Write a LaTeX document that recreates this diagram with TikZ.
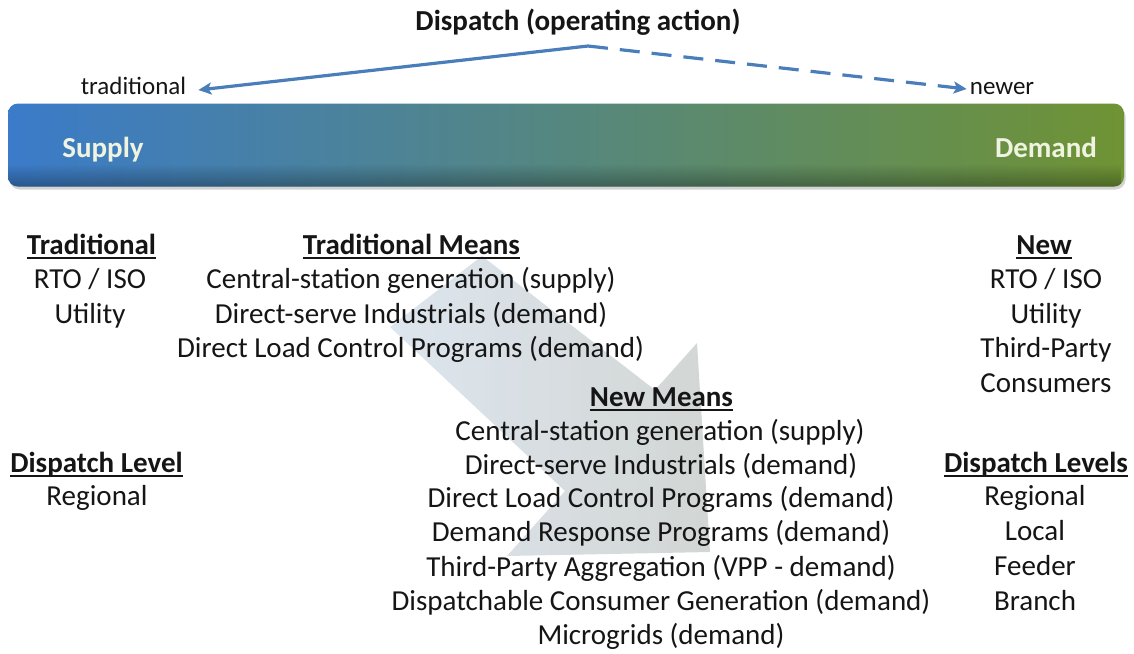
\documentclass[tikz,border=0pt]{standalone}
\usepackage{fontspec}
\setmainfont{Carlito}
\usetikzlibrary{arrows.meta,shadows,fadings,calc}
\definecolor{barL}{HTML}{3B7BC9}
\definecolor{barM}{HTML}{528A88}
\definecolor{barR}{HTML}{6F9334}
\definecolor{arrowblue}{HTML}{4A7EBB}
\definecolor{shaftc}{HTML}{DDE5EE}
\definecolor{headc}{HTML}{D2D6D4}
\definecolor{bartext}{HTML}{EEF4DF}
\definecolor{ink}{HTML}{151515}
\newcommand{\ulb}[1]{\setbox0=\hbox{\bfseries #1}\rlap{\rule[-0.16em]{\wd0}{0.07em}}\box0}
\begin{document}
\begin{tikzpicture}[x=1pt,y=-1pt,
  txt/.style={font=\fontsize{29}{35}\selectfont, inner sep=0pt, anchor=base, text=ink},
  small/.style={font=\fontsize{25}{30}\selectfont, inner sep=0pt, anchor=base, text=ink},
  bartxt/.style={font=\fontsize{29}{35}\selectfont\bfseries, inner sep=0pt, anchor=base, text=bartext},
  bar/.style={rounded corners=10pt, minimum width=1116pt, minimum height=83pt, inner sep=0pt,
    left color=barL, middle color=barM, right color=barR,
    drop shadow={shadow xshift=1.5pt, shadow yshift=-3pt, opacity=0.35}},
  conn/.style={draw=arrowblue, line width=3.2pt, -{Stealth[length=13pt,width=12pt,inset=3pt]}},
  dconn/.style={conn, dash pattern=on 20pt off 12pt}
]
\useasboundingbox (0,0) rectangle (1134,653);

% big faint arrow
\shade[left color=shaftc, right color=headc]
  (482,256) -- (655,390) -- (697,343) -- (710,552) -- (507,556) -- (565,491) -- (390,327) -- cycle;

% bar
\node[bar] (bar) at (566,145) {};
\begin{scope}
  \clip[rounded corners=10pt] (bar.north west) rectangle (bar.south east);
  \fill[black, path fading=north, fill opacity=0.3] (8,164) rectangle (1124,187);
\end{scope}
\node[bartxt] (supply) at (103,157) {Supply};
\node[bartxt] (demand) at (1046,157) {Demand};

% top
\node[txt, font=\fontsize{29}{35}\selectfont\bfseries] (title) at (578,30) {Dispatch (operating action)};
\node[small] (trad) at (133.5,94) {traditional};
\node[small] (newer) at (1002,94) {newer};
\coordinate (apex) at (588,46);
\draw[conn] (apex) -- ($(trad.base east)+(12,-4)$);
\draw[dconn] (apex) -- ($(newer.base west)+(-3,-5)$);

% left column
\node[txt] (lh) at (91.5,254) {\ulb{Traditional}};
\node[txt] (l1) at (90,288) {RTO / ISO};
\node[txt] (l2) at (90,323) {Utility};
\node[txt] (dl) at (96.5,472) {\ulb{Dispatch Level}};
\node[txt] (dl1) at (97,505) {Regional};

% traditional means
\node[txt] (th) at (411.5,254) {\ulb{Traditional Means}};
\node[txt] (t1) at (411,288) {Central-station generation (supply)};
\node[txt] (t2) at (411,323) {Direct-serve Industrials (demand)};
\node[txt] (t3) at (410.5,357) {Direct Load Control Programs (demand)};

% new means
\node[txt] (nh) at (661.5,406) {\ulb{New Means}};
\node[txt] (n1) at (660,440) {Central-station generation (supply)};
\node[txt] (n2) at (661,474) {Direct-serve Industrials (demand)};
\node[txt] (n3) at (661,507) {Direct Load Control Programs (demand)};
\node[txt] (n4) at (661,541) {Demand Response Programs (demand)};
\node[txt] (n5) at (661,576) {Third-Party Aggregation (VPP - demand)};
\node[txt] (n6) at (661,610) {Dispatchable Consumer Generation (demand)};
\node[txt] (n7) at (661,644) {Microgrids (demand)};

% right column
\node[txt] (rh) at (1044,254) {\ulb{New}};
\node[txt] (r1) at (1046,288) {RTO / ISO};
\node[txt] (r2) at (1046,323) {Utility};
\node[txt] (r3) at (1046,357) {Third-Party};
\node[txt] (r4) at (1046,392) {Consumers};
\node[txt] (dh) at (1036,472) {\ulb{Dispatch Levels}};
\node[txt] (d1) at (1035,505) {Regional};
\node[txt] (d2) at (1035,540) {Local};
\node[txt] (d3) at (1035,575) {Feeder};
\node[txt] (d4) at (1035,610) {Branch};
\end{tikzpicture}
\end{document}
